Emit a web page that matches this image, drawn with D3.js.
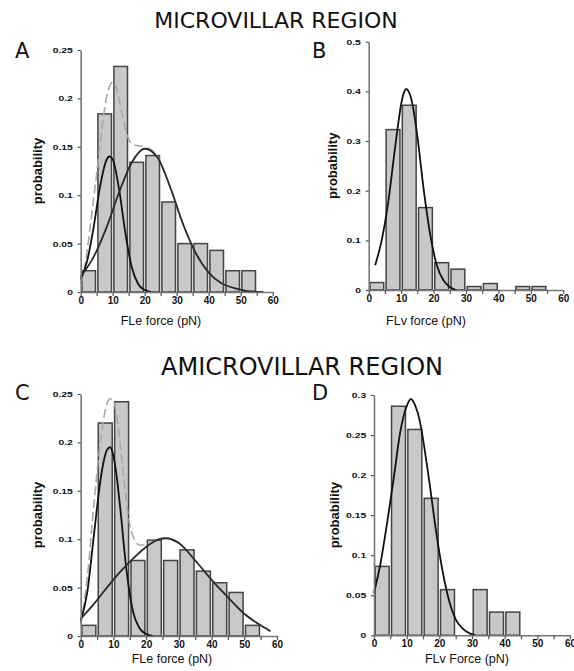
<!DOCTYPE html>
<html>
<head>
<meta charset="utf-8">
<script src="https://cdn.jsdelivr.net/npm/d3@7/dist/d3.min.js"></script>
<style>
  body { margin: 0; background: #fff; }
  svg text { fill: #111; }
</style>
</head>
<body>
<script>
// bin starts (pN), each bin is 5 wide
const binStarts = [0, 5, 10, 15, 20, 25, 30, 35, 40, 45, 50];
const xMinorTicks = [0, 5, 10, 15, 20, 25, 30, 35, 40, 45, 50, 55, 60];
const xTickLabels = [0, 10, 20, 30, 40, 50, 60];

// A: microvillar FLe
const aBins = [0.022, 0.184, 0.233, 0.134, 0.141, 0.093, 0.05, 0.05, 0.043, 0.022, 0.022];
const aFit1 = [[0, 0.013], [2, 0.032], [4, 0.066], [6, 0.108], [8, 0.136], [9, 0.14], [10, 0.137], [12, 0.106], [14, 0.06], [16, 0.025], [18, 0.008], [20, 0.002], [22, 0]];
const aFit2 = [[0, 0.016], [4, 0.036], [8, 0.066], [12, 0.103], [16, 0.134], [20, 0.148], [24, 0.139], [28, 0.108], [32, 0.07], [36, 0.04], [40, 0.02], [44, 0.009], [48, 0.004], [52, 0.001], [57, 0]];
const aSum = [[0, 0.009], [1, 0.02], [2, 0.042], [3, 0.068], [4, 0.096], [5, 0.122], [6, 0.152], [7, 0.178], [8, 0.2], [9, 0.212], [10, 0.217], [11, 0.212], [12, 0.199], [13, 0.183], [14, 0.168], [15, 0.158], [16, 0.153], [18, 0.151], [20, 0.15], [24, 0.14], [28, 0.108], [32, 0.07], [36, 0.04], [40, 0.02], [44, 0.009], [48, 0.004], [52, 0.001], [57, 0]];
const aYTicks = [0, 0.05, 0.1, 0.15, 0.2, 0.25];

// B: microvillar FLv
const bBins = [0.015, 0.323, 0.372, 0.166, 0.055, 0.042, 0.007, 0.013, 0, 0.007, 0.007];
const bFit = [[2, 0.05], [4, 0.1], [6, 0.176], [8, 0.28], [9, 0.33], [10, 0.374], [11, 0.4], [11.6, 0.405], [12.3, 0.4], [13, 0.388], [14, 0.355], [15, 0.31], [17, 0.2], [19, 0.11], [21, 0.05], [23, 0.02], [25, 0.006], [27, 0]];
const bYTicks = [0, 0.1, 0.2, 0.3, 0.4, 0.5];

// C: amicrovillar FLe
const cBins = [0.011, 0.22, 0.242, 0.078, 0.099, 0.078, 0.089, 0.067, 0.055, 0.045, 0.011];
const cFit1 = [[0, 0.015], [2, 0.045], [4, 0.103], [6, 0.16], [7, 0.18], [8, 0.192], [9, 0.195], [10, 0.186], [11, 0.165], [12, 0.135], [14, 0.068], [16, 0.025], [18, 0.008], [20, 0.002], [22, 0]];
const cFit2 = [[0, 0.018], [4, 0.033], [8, 0.05], [12, 0.066], [16, 0.08], [20, 0.092], [24, 0.1], [26, 0.101], [30, 0.096], [35, 0.078], [40, 0.058], [45, 0.04], [50, 0.023], [55, 0.011], [58, 0.005]];
const cSum = [[0, 0.012], [2, 0.06], [4, 0.135], [6, 0.2], [8, 0.24], [9, 0.245], [10, 0.243], [11, 0.228], [12, 0.2], [13, 0.168], [14, 0.138], [15, 0.115], [16, 0.103], [18, 0.094], [20, 0.094], [24, 0.1], [26, 0.101], [30, 0.096], [35, 0.078], [40, 0.058], [45, 0.04], [50, 0.023], [55, 0.011], [58, 0.005]];
const cYTicks = [0, 0.05, 0.1, 0.15, 0.2, 0.25];

// D: amicrovillar FLv
const dBins = [0.086, 0.286, 0.257, 0.171, 0.057, 0, 0.057, 0.029, 0.029];
const dFit = [[0, 0.053], [2, 0.09], [4, 0.14], [6, 0.195], [8, 0.253], [10, 0.286], [11.3, 0.295], [12.5, 0.288], [14, 0.268], [15, 0.245], [17, 0.19], [19, 0.13], [21, 0.08], [23, 0.043], [25, 0.02], [27, 0.009], [29, 0.003], [31, 0]];
const dYTicks = [0, 0.05, 0.1, 0.15, 0.2, 0.25, 0.3];

const svg = d3.select("body").
append("svg").
attr("width", 574).
attr("height", 671);

const panels = [
  { letter: "A", lx: 15, ly: 58, left: 80.7, right: 272.7, top: 50, bottom: 292, yMax: 0.25, bins: aBins, fits: [aFit1, aFit2], sum: aSum, yTicks: aYTicks, xLabel: "FLe force (pN)", xlx: 161, xly: 325, ylx: 42 },
  { letter: "B", lx: 312, ly: 58, left: 368.7, right: 563.3, top: 41.7, bottom: 290, yMax: 0.5, bins: bBins, fits: [bFit], sum: null, yTicks: bYTicks, xLabel: "FLv force (pN)", xlx: 426, xly: 325, ylx: 337 },
  { letter: "C", lx: 15, ly: 400, left: 80.7, right: 277, top: 394, bottom: 636, yMax: 0.25, bins: cBins, fits: [cFit1, cFit2], sum: cSum, yTicks: cYTicks, xLabel: "FLe force (pN)", xlx: 172, xly: 663, ylx: 42 },
  { letter: "D", lx: 312, ly: 400, left: 374, right: 570, top: 395, bottom: 635.3, yMax: 0.3, bins: dBins, fits: [dFit], sum: null, yTicks: dYTicks, xLabel: "FLv Force (pN)", xlx: 467, xly: 663, ylx: 339 }
];

const drawPanel = p => {
  const x = d3.scaleLinear().domain([0, 60]).range([p.left, p.right]);
  const y = d3.scaleLinear().domain([0, p.yMax]).range([p.bottom, p.top]);
  const g = svg.append("g");

  g.selectAll("rect").
  data(p.bins).
  enter().
  append("rect").
  attr("x", (d, i) => x(binStarts[i]) + 1.2).
  attr("width", x(5) - x(0) - 2.4).
  attr("y", d => y(d)).
  attr("height", d => y(0) - y(d)).
  attr("fill", "#c8c8c8").
  attr("stroke", "#444").
  attr("stroke-width", 1.5).
  attr("display", d => d > 0 ? null : "none");

  const line = d3.line().
  x(d => x(d[0])).
  y(d => y(d[1])).
  curve(d3.curveMonotoneX);

  if (p.sum) {
    g.append("path").
    attr("d", line(p.sum)).
    attr("fill", "none").
    attr("stroke", "#a8a8a8").
    attr("stroke-width", 1.6).
    attr("stroke-dasharray", "9,4");
  }
  p.fits.forEach((f, i) => {
    g.append("path").
    attr("d", line(f)).
    attr("fill", "none").
    attr("stroke", i === 0 ? "#111" : "#2a2a2a").
    attr("stroke-width", 1.8);
  });

  const xAxis = d3.axisBottom(x).
  tickValues(xMinorTicks).
  tickSize(4).
  tickSizeOuter(0).
  tickFormat(d => xTickLabels.includes(d) ? d : "");
  const xg = g.append("g").
  attr("transform", `translate(0,${p.bottom})`).
  call(xAxis);
  xg.select(".domain").attr("stroke", "#777").attr("stroke-width", 1.6);
  xg.selectAll(".tick line").attr("stroke", "#555").attr("stroke-width", 1.2);
  xg.selectAll(".tick text").
  attr("y", 5).
  attr("fill", "#111").
  style("font", "bold 10px 'Liberation Sans', Arial, sans-serif");

  const yAxis = d3.axisLeft(y).
  tickValues(p.yTicks).
  tickSize(3).
  tickSizeOuter(0).
  tickFormat(d => String(d));
  const yg = g.append("g").
  attr("transform", `translate(${p.left},0)`).
  call(yAxis);
  yg.select(".domain").attr("stroke", "#777").attr("stroke-width", 1.6);
  yg.selectAll(".tick line").attr("stroke", "#555").attr("stroke-width", 1.2);
  yg.selectAll(".tick text").
  attr("x", -6).
  attr("transform", "scale(1.3,1)").
  attr("fill", "#111").
  style("font", "bold 8px 'Liberation Sans', Arial, sans-serif");

  g.append("text").
  attr("x", p.xlx).
  attr("y", p.xly).
  attr("text-anchor", "middle").
  style("font", "12.5px 'Liberation Sans', Arial, sans-serif").
  text(p.xLabel);

  g.append("text").
  attr("transform", `translate(${p.ylx},${(p.top + p.bottom) / 2}) rotate(-90)`).
  attr("text-anchor", "middle").
  style("font", "bold 13px 'Liberation Sans', Arial, sans-serif").
  text("probability");

  g.append("text").
  attr("x", p.lx).
  attr("y", p.ly).
  style("font", "21px 'DejaVu Sans', sans-serif").
  text(p.letter);
};

panels.forEach(drawPanel);

svg.append("text").
attr("x", 276).
attr("y", 28).
attr("text-anchor", "middle").
style("font", "22px 'DejaVu Sans', sans-serif").
text("MICROVILLAR REGION");

svg.append("text").
attr("x", 302).
attr("y", 375).
attr("text-anchor", "middle").
style("font", "24px 'DejaVu Sans', sans-serif").
text("AMICROVILLAR REGION");
</script>
</body>
</html>
